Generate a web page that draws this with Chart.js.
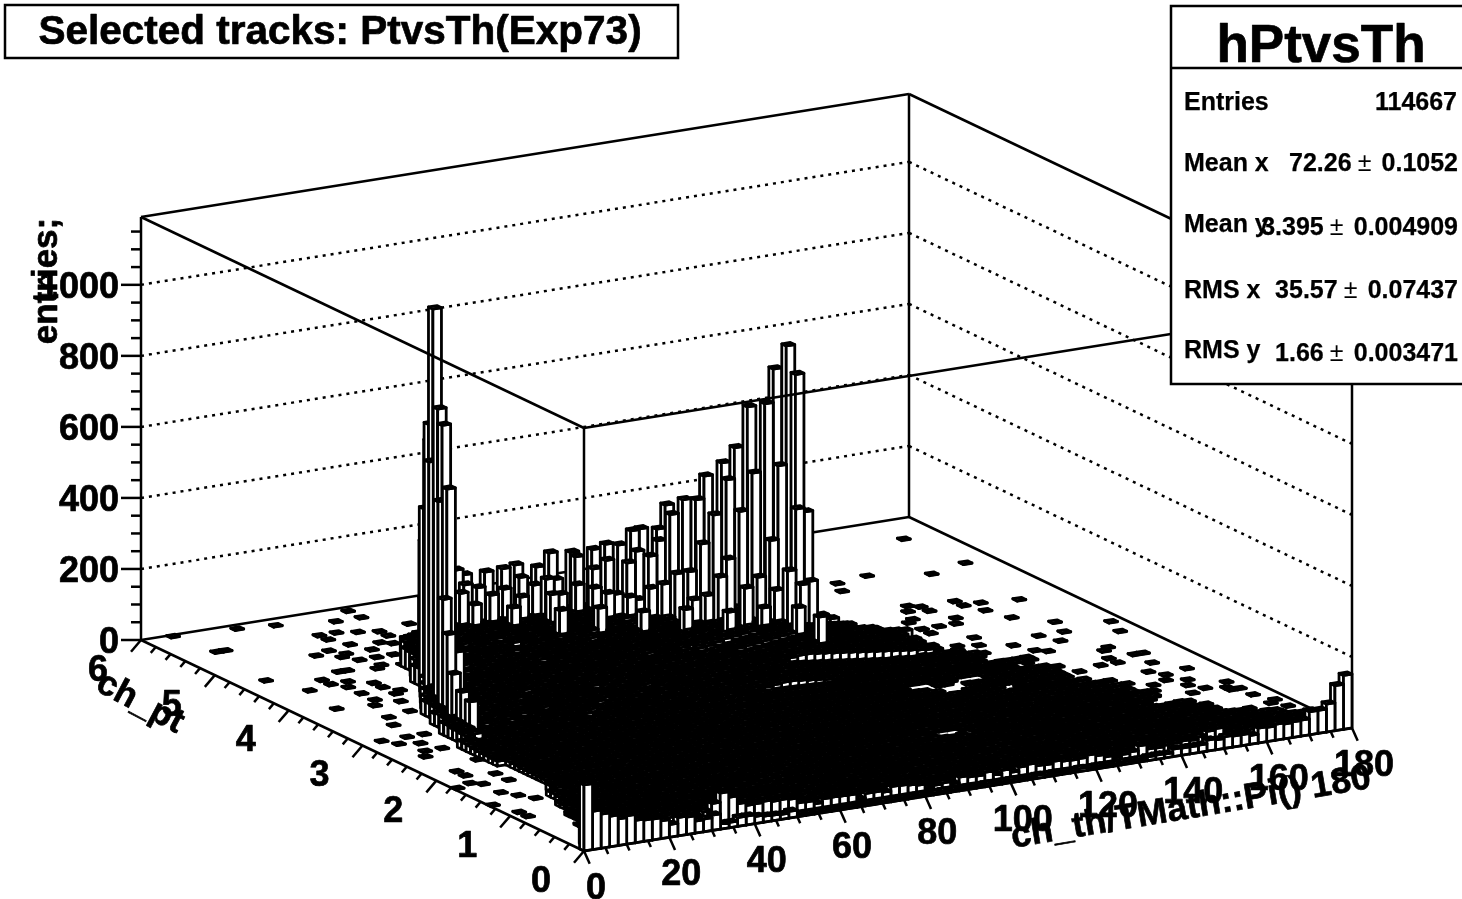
<!DOCTYPE html>
<html><head><meta charset="utf-8">
<style>html,body{margin:0;padding:0;background:#fff}canvas{display:block}</style>
<script src="https://cdn.jsdelivr.net/npm/chart.js@4"></script></head>
<body><canvas id="c" width="1462" height="899"></canvas>
<script>
// ---------- axis values ----------
const thetaTicks=[0,20,40,60,80,100,120,140,160,180];
const ptTicks=[0,1,2,3,4,5,6];
const entriesTicks=[0,200,400,600,800,1000];
const thetaBinWidth=2, ptBinWidth=0.06;
// ---------- bin contents ----------
// front row, pt bin 0: entries per theta bin
const frontRow0=[186,108,96,86,75,80,63,60,59,50,36,52,49,34,36,43,15,15,25,25,20,17,16,14,19,6,5,6,4,5,6,4,5,7,5,6,4,5,6,7,5,6,8,5,7,6,5,8,6,7,8,6,7,9,6,8,7,6,9,7,8,7,6,8,8,8,11,12,11,21,20,20,21,31,28,33,31,31,25,42,40,45,42,44,45,65,65,79,127,152];
// pt bin 2: entries per theta bin
const frontRow2=[0,90,80,70,60,65,50,50,45,40,30,40,35,30,30,40,60,86,70,48,39,40,43,39,40,37,23,22,13,23,24,23,22,7,19,19,15,27,26,23,19,7,11,14,8,23,19,18,25,14,23,13,24,28,20,19,25,21,20,21,27,21,14,8,13,17,30,17,16,20,21,24,22,28,40,44,30,28,24,26,22,24,20,22,18,20,16,18,14,12];
// main populated floor: pt bin, first theta bin, per-row multiplier, base-36 contents
const floorPtBins=[84,82,80,78,76,74,72,70,68,66,64,62,60,58,56,54,52,50,48,46,44,42,40,38,36,34,32,30,28,26,24,22,20,18,16,14,12,10,8,6,4,
83,81,79,77,75,73,71,69,67,65,63,61,59,57,55,53,51,49,47,45,43,41,39,37,35,33,31,29,27,25,23,21,19,17,15,13,11,9,7,5,3];
const floorStarts=[28,23,21,20,19,18,18,17,16,16,15,14,13,12,11,11,10,10,9,9,9,8,8,8,8,9,9,9,9,8,8,7,6,6,5,5,4,4,3,3,2,
25,22,20,19,18,18,17,16,16,15,14,13,12,11,11,10,10,9,9,9,8,8,8,8,8,9,9,9,8,8,7,6,6,5,5,4,4,3,3,2,2];
const floorScales=[3,3,3,3,3,3,3,3,3,3,3,3,3,3,3,3,3,3,3,3,3,1,1,1,1,1,1,1,1,1,1,2,2,2,2,2,2,2,2,2,2,
3,3,3,3,3,3,3,3,3,3,3,3,3,3,3,3,3,3,3,3,1,1,1,1,1,1,1,1,1,1,2,2,2,2,2,2,2,2,2,2,2];
const floorEntries=[
"a9b9a99b9a9",
"cdcdecdcddecdcdcdedc",
"fghghhgfhghhgihghfghghgfh",
"ijklkllkjlkllmlklkjlkllmklkj",
"ijlmnmnonmnmonmnnmonmnmnomnmnon",
"hjkmlmnmlmnmmlmnmlmmnmlmnmmlnmnop",
"hjkllmlklmllkmlllmklmlklmlmlklmnopq",
"ghjklkjklkkljklkkjkllkjkkljkklkmnopqr",
"ghijijhijiijhijiihijjihiijhijihijklnopqr",
"fghhihghihhgihhghihgihhgihhihgihjklmnopqp",
"fghghfghgghfghgfgghfghgghfghgfghijkmnopqrqp",
"efgefdefeefdefeedefefdeefdefedefgijlmnoqqrqpo",
"efdedcdedecdeddcdededcddedcdedcdefhijlnopqrqponm",
"defcdbcdcdbcdccbdcdcbcdcdbcdcbcdefhiklmoppqponmlkj",
"debcabcbcabcbbacbcbabcbcabcbabcdefghjklmnopponmlkjihg",
"cd9ab9a9ab9a99b9a9b9a9ab9a9b9abcdefghijklmnnmlkjihgfedc",
"cd89a8989a898a8998a98989a8989a9abcdefghijkllkjihgfedcba98",
"bc78978978797987989787987978978a9bcdefghijjihgfedcba987654",
"bc6786787676867867687687676786789abcdeffedcba9876543211212111",
"ab56756765657567565765765656756789abcdedcba9876543210121121211",
"9a456456545464564546456454564567889abccba98765432111211212112",
"kjcdeefdefdeefdefdeefdefdedfeedfefghijkkjihgfedcba98765432321212112",
"hibcdcebcdbcecdbcedbcdecbdcebcdfghijjihgfedcba987654322121121211",
"fgabcbdabcabdbcadbcabcdabcbdabcbdefghihgfedcba9876000540000321212112",
"e9abcabdabcabcaabcdabcabcabdabcbdefghgfedcba98765432100003212121121",
"d9abcabcabdabcaabcabcdabcabcabcdefgfedcba9876543211232132100002121",
"c8a9babacabab9acab9bacabacabcdeffedcba98765432212321232121232121212",
"b89a9ba9ab9a9ba9ab9a9bab9a9abcdeedcba98765432123212320000212321211212",
"a7898a98978a89798a897897898abcddcba987654323212321232123212100021211",
"0a6787867687876878678767678789abccba9876543232123212321232123212121212",
"096768676576767567686756767889abbba987654323212321232123212321232121212",
"0856756565656765656765656567789aaa98765432321232123212321232123212321212",
"07456545454565454565454545667899987654323212320000321232123212321232121",
"064565456546545654564545678998765432321232123212321232100000002123212321232",
"05354543545435454354543456788765432321232123212321232100002123212321232123212",
"04343534354345343545343456776543212321232123212321232123212321232123212321232",
"043343434353434343435343434566543212321232123212321232123200002123212321232123212",
"03323232423232324232323234554321232123212321232123212321232123212321232123212321232",
"0232323232423232323242323234544321232123212321232123212321232123212321232123212321232123",
"02121212323121212321212121343321212321212321212321212321212321212321212321212321212321212",
"012121212121212121212121212232212121212121212121212121212121212121212121212121212121212121",
"abbabcabbaabcbab",
"deefdeedfeedfdeefedefe",
"hijijihjiijkjiijhjijiijkijih",
"jklmlmnmllmlnmlmmlnmlmlmnlmlmnm",
"ijlmlnmnmmlnmlmnmlnmmlnmmlmnmlmnn",
"hjklmllmkllmlkllmlkmlmlklmlmklmnopp",
"hijkkljkkljjkklkjklkjkklkjklkklmnopqq",
"ghijjkhijjiihjijjhijkihjjiihijjhjklmnopq",
"fghiihghiihgiihhgihhgiihgihihgiijklmnopqq",
"fgghgfghhgfghhggfghgghfghggfghgijkmnopqrrpq",
"efgfgefgffefgfeefgfgeffeffegfefgijlmnopqrqpon",
"efefdedefdeefdedeffdeeffdeffdefghijlmnoqqrqpnmlk",
"decdecdcdecdcdcdecdcdecdcdcdcdefhikmnopqqponmlkjih",
"debcbcdcbcdbcbcbdbcbcdbcbcbcbcdefgijklnoppponmlkjihgf",
"cdaba9ababa9abab9aba9abab9aba9abcdefghijklmnonmlkjihgfed",
"bc9a989a9a89a9899a98a9a89a989a9abcdefghijklmlkjihgfedcba9",
"bc8989789a7898a7989879897898789abcdefghijkkjihgfedcba98765",
"bc7867867968678687968796867687789abcdefgfedcba987654332121212",
"ab675675767565768756756756567567889abcdeedcba98765432110211212",
"9a546546564554646546546545546567889abcdcba9876543211212112121",
"lkdefgefgeffegefefgedgfefgefegfghijklmlkjihgfedcba98765432121212112",
"jicdecdeficdefdecdeficdefcdefghijkkjihgfedcba9876543212212112121",
"ghbcdcebcdbcebcdcbedcbcdecbcdcefghijihgfedcba9876500054300032121211",
"fabcdabcabdbcaabcdbcabcabdabcbdefghihgfedcba98764321000032121212112",
"ea9bcabdabcabcabcdabcabcabdabcbcdefgfedcba9876543211000121212112121",
"d9abcabdaabcbaabcabdabcabcabcdefgfedcba98765432112321232000212121",
"c8a9babacabab9acab9bacabacabcdefedcba9876543221232123212123212121",
"b89a9b9ab9a9ba9ab9a9bab9a9abcdedcba98765432123212000023212321211212",
"0a7898a9897a89798a89789789abcddcba987654323212321232123210002121211",
"0a6778786768787687867876678789abcbba9876543232123212321232123212121212",
"085675656565765656765656567789aaa98765432321232123212321232123212321212",
"074565454545654545654545456678999876543232123200032123212321232123212121",
"0645654545654545654564545678998765432321232123212000002123212321232123",
"053545435454354543545434567887654323212321232123210002123212321232123212",
"0434353435434534354534345677654321232123212321232123212321232123212321232",
"04343434353434343535343434566543212321232123212321230002123212321232123212321",
"0332323242323232423232323455432123212321232123212321232123212321232123212321232",
"023232323242323232324232323454432123212321232123212321232123212321232123212321232123",
"0212121232312121232121212134332121232121232121232121232121232121232121232121232121",
"012121212121212121212121212232212121212121212121212121212121212121212121212121212121212",
"01212121212121212121212121223221212121212121212121212121212121212121212121212121212121"
];
// tall ridge and spike: [theta bin, pt bin, entries]
const ridgeBars=[[30,87,158],[31,87,141],[33,86,147],[35,86,149],[37,87,146],[39,86,138],[40,85,180],[42,84,180],[44,83,186],[45,82,203],[46,81,203],[47,80,245],[48,80,247],[49,78,254],[50,78,318],[51,76,341],[52,75,343],[53,75,406],[54,73,451],[55,72,496],[56,71,613],[57,69,630],[58,69,724],[59,68,791],
[58,64,738],[55,68,448],[57,66,473],[53,70,425],[52,71,324],[54,69,338],[57,62,375],[58,62,363],[55,64,282],[50,70,256],[49,75,313],[48,76,237],[46,77,209],[47,76,197],[45,77,180],[43,78,189],[42,79,163],[41,81,189],[36,84,132],[52,68,217],[55,60,220],[57,59,189],[56,59,183],[53,63,192],[54,61,163],[51,62,175],[50,66,186],[48,69,191],[47,70,183],[46,71,152],[45,72,138],[49,67,132],[48,68,118],[44,73,104],[42,74,121],[41,77,124],[39,77,141],[37,78,158],[36,78,163],[35,79,144],[33,78,124],[32,80,138],[30,82,138],[29,83,144],[28,82,130],[30,79,135],[35,75,141],[36,75,138],[41,74,127],[43,73,115],
[28,79,115],[31,76,113],[34,71,124],[38,70,121],[42,68,107],[46,66,110],[49,62,115],[52,60,127],[54,56,144],[55,53,132],
[15,63,1094],[14,60,834],[14,59,794],[15,64,763],[16,66,699],[13,56,636],[12,55,335],[12,54,242],[11,51,152],[17,69,394],[16,67,504],[18,71,217],[14,62,673],[13,58,589],[13,54,189],[11,49,113],[11,47,98]];
// isolated low bins around the populated region: [theta bin, pt bin]
const strayCells=[[3,99],[10,98],[14,97],[23,98],[23,95],[20,95],[26,90],[16,91],[18,91],[20,90],[22,89],[22,87],[16,89],[17,86],[20,85],[21,84],[23,84],[4,91],[5,91],[12,84],[14,85],[15,83],[14,82],[18,83],[15,80],[17,80],[19,80],[20,79],[15,76],[16,77],[18,76],[11,77],[12,77],[3,78],[8,75],[8,73],[10,73],[9,71],[12,71],[12,69],[13,67],[5,72],[9,68],[9,65],[8,63],[12,66],[11,63],[4,64],[10,59],[12,58],[7,58],[6,55],[10,52],[2,50],[3,48],[5,50],[7,50],[5,47],[6,44],[4,44],[3,42],[7,38],[3,35],[3,33],[6,32],[2,30],[3,29],[6,29],[0,29],[3,25],[4,23],[0,21],[5,21],[1,17],[1,15],
[85,92],[86,80],[75,81],[81,78],[71,80],[70,77],[84,64],[78,67],[80,65],[78,65],[73,68],[74,67],[72,66],[74,65],[79,62],[64,70],[80,58],[75,61],[71,63],[70,62],[74,59],[83,54],[88,51],[87,47],[82,50],[66,62],[70,59],[72,59],[70,57],[68,59],[67,60],[65,58],[79,50],[73,53],[80,47],[75,48],[70,51],[72,50],[67,52],[65,52],[76,45],[77,44],[83,42],[82,41],[85,38],[84,38],[71,47],[73,43],[81,38],[79,36],[81,36],[84,34],[73,41],[74,39],[86,30],[82,31],[76,35],[83,29],[84,26],[82,27],[83,24],[78,28],[80,26],[79,24],[87,23],[84,22],[82,21],[86,20],[87,20],[87,17],[86,21],[77,28],[87,13],[88,14],[88,11]];
// text
const histTitle="Selected tracks: PtvsTh(Exp73)";
const statsName="hPtvsTh";
const xTitle="ch_th/TMath::Pi() 180", yTitle="ch_pt", zTitle="entries;";
const statsRows=[["Mean x","72.26","0.1052",163,163],["Mean y","3.395","0.004909",224,227],["RMS x","35.57","0.07437",290,290],["RMS y","1.66","0.003471",350,353]];

// ---------- assemble bins ----------
const cells=new Map();
const put=(i,j,v)=>{if(v>0)cells.set(i+":"+j,{x:i*thetaBinWidth,y:j*ptBinWidth,entries:v,i,j});};
strayCells.forEach(c=>put(c[0],c[1],1));
floorEntries.forEach((s,r)=>{[...s].forEach((ch,k)=>{const i=floorStarts[r]+k;if(i<90)put(i,floorPtBins[r],parseInt(ch,36)*floorScales[r]);});});
frontRow2.forEach((v,i)=>put(i,2,v));
frontRow0.forEach((v,i)=>put(i,0,v));
ridgeBars.forEach(b=>put(b[0],b[1],b[2]));
const legoData=[...cells.values()].sort((a,b)=>b.j-a.j||b.i-a.i);

// ---------- projection built on the chart's own scales ----------
const O={x:584,y:851},TH={x:768,y:-123},PT={x:-443,y:-211},ZZ=423;
function proj(chart,t,p,z){
  const sx=chart.scales.x,sy=chart.scales.y,sz=chart.scales.z;
  const a=(sx.getPixelForValue(t)-sx.left)/sx.width;
  const b=(sy.bottom-sy.getPixelForValue(p))/sy.height;
  const c=(sz.bottom-sz.getPixelForValue(z))/sz.height;
  return [O.x+a*TH.x+b*PT.x, O.y+a*TH.y+b*PT.y-c*ZZ];
}
function poly(ctx,pts,fill){ctx.beginPath();pts.forEach((q,n)=>n?ctx.lineTo(q[0],q[1]):ctx.moveTo(q[0],q[1]));ctx.closePath();if(fill){ctx.fillStyle="#fff";ctx.fill();}ctx.stroke();}
function line(ctx,a,b){ctx.beginPath();ctx.moveTo(a[0],a[1]);ctx.lineTo(b[0],b[1]);ctx.stroke();}
const fnt=n=>'bold '+n+'px "Liberation Sans", Arial, sans-serif';
function txt(ctx,s,x,y,size,align,rot){ctx.save();ctx.translate(x,y);if(rot)ctx.rotate(rot);ctx.font=fnt(size);ctx.textAlign=align||"center";ctx.textBaseline="middle";ctx.fillStyle="#000";ctx.strokeStyle="#000";ctx.lineWidth=size>30?0.7:0.25;ctx.lineJoin="round";ctx.fillText(s,0,0);ctx.strokeText(s,0,0);ctx.restore();}

class LegoController extends Chart.ScatterController{
  draw(){
    const chart=this.chart,ctx=chart.ctx,data=this.getDataset().data;
    ctx.save();ctx.strokeStyle="#000";ctx.lineWidth=2.8;ctx.lineJoin="round";
    for(const d of data){
      const t0=d.x,t1=d.x+thetaBinWidth,p0=d.y,p1=d.y+ptBinWidth,h=d.entries;
      const a=proj(chart,t0,p0,0),b=proj(chart,t1,p0,0),c=proj(chart,t0,p1,0);
      const A=proj(chart,t0,p0,h),B=proj(chart,t1,p0,h),C=proj(chart,t0,p1,h),D=proj(chart,t1,p1,h);
      poly(ctx,[c,a,A,C],true);
      poly(ctx,[a,b,B,A],true);
      poly(ctx,[A,B,D,C],true);
    }
    ctx.restore();
  }
}
LegoController.id="lego";
LegoController.defaults={datasetElementType:false,dataElementType:"point",showLine:false};
Chart.register(LegoController);

const backdrop={id:"backdrop",beforeDatasetsDraw(chart){
  const ctx=chart.ctx,zTop=chart.scales.z.max,T=180,P=6;
  ctx.save();ctx.strokeStyle="#000";ctx.lineWidth=2.5;ctx.lineCap="butt";
  ctx.setLineDash([3,5]);
  entriesTicks.slice(1).forEach(z=>{line(ctx,proj(chart,0,P,z),proj(chart,T,P,z));line(ctx,proj(chart,T,P,z),proj(chart,T,0,z));});
  ctx.setLineDash([]);
  line(ctx,proj(chart,0,P,0),proj(chart,T,P,0));
  line(ctx,proj(chart,T,P,0),proj(chart,T,0,0));
  line(ctx,proj(chart,T,P,0),proj(chart,T,P,zTop));
  line(ctx,proj(chart,T,0,0),proj(chart,T,0,zTop));
  line(ctx,proj(chart,0,0,0),proj(chart,0,0,zTop));
  line(ctx,proj(chart,0,P,zTop),proj(chart,T,P,zTop));
  line(ctx,proj(chart,T,P,zTop),proj(chart,T,0,zTop));
  ctx.restore();
}};
const overlay={id:"overlay",afterDatasetsDraw(chart){
  const ctx=chart.ctx,zTop=chart.scales.z.max,T=180,P=6;
  ctx.save();ctx.strokeStyle="#000";ctx.lineWidth=2.5;
  line(ctx,proj(chart,0,P,zTop),proj(chart,0,0,zTop));
  line(ctx,proj(chart,0,0,zTop),proj(chart,T,0,zTop));
  // axes
  line(ctx,proj(chart,0,P,0),proj(chart,0,P,zTop));
  line(ctx,proj(chart,0,P,0),proj(chart,0,0,0));
  line(ctx,proj(chart,0,0,0),proj(chart,T,0,0));
  for(let z=0;z<=1150;z+=50){const q=proj(chart,0,P,z),L=z%200===0?20:10;line(ctx,q,[q[0]-L,q[1]]);}
  for(let k=0;k<=36;k++){const t=k*5,q=proj(chart,t,0,0),f=k%4===0?1:.5;line(ctx,q,[q[0]+5.7*f,q[1]+12.7*f]);}
  for(let k=0;k<=30;k++){const p=k*.2,q=proj(chart,0,p,0),f=k%5===0?1:.5;line(ctx,q,[q[0]-10*f,q[1]+11.7*f]);}
  // tick labels
  entriesTicks.forEach(z=>{const q=proj(chart,0,P,z);txt(ctx,String(z),119,q[1]+3,36,"right");});
  thetaTicks.forEach(t=>{const q=proj(chart,t,0,0);txt(ctx,String(t),q[0]+12,q[1]+38,36);});
  ptTicks.forEach(p=>{const q=proj(chart,0,p,0);txt(ctx,String(p),q[0]-43,q[1]+31,36);});
  // axis titles
  txt(ctx,xTitle,1191,808,36,"center",-9.5*Math.PI/180);
  txt(ctx,yTitle,140,703,35,"center",28*Math.PI/180);
  txt(ctx,zTitle,47,281,35,"center",-Math.PI/2);
  // title box
  ctx.fillStyle="#fff";ctx.fillRect(5,5,673,53);ctx.strokeRect(5,5,673,53);
  txt(ctx,histTitle,340,33,40.5);
  // stats box
  ctx.fillStyle="#fff";ctx.fillRect(1171,6,300,378);ctx.strokeRect(1171,6,300,378);
  line(ctx,[1171,68],[1462,68]);
  txt(ctx,statsName,1321,47,53);
  txt(ctx,"Entries",1184,103,25,"left");
  txt(ctx,"114667",1457,103,25,"right");
  statsRows.forEach(r=>{
    txt(ctx,r[0],1184,r[3]+1,25,"left");
    ctx.font=fnt(25);const w=ctx.measureText(r[2]).width,start=1458-w;
    txt(ctx,r[2],1458,r[4]+1,25,"right");
    ctx.save();ctx.font='25px "Liberation Sans", Arial, sans-serif';ctx.textAlign="center";ctx.textBaseline="middle";ctx.fillStyle="#000";ctx.fillText("\u00b1",start-17,r[4]+1);ctx.restore();
    txt(ctx,r[1],start-30,r[4]+1,25,"right");
  });
  ctx.restore();
}};

new Chart(document.getElementById("c"),{
  type:"lego",
  data:{datasets:[{label:"hPtvsTh",data:legoData,pointRadius:0,xAxisID:"x",yAxisID:"y"}]},
  options:{responsive:false,animation:false,events:[],layout:{padding:0},
    plugins:{legend:{display:false},tooltip:{enabled:false},title:{display:false}},
    scales:{
      x:{type:"linear",min:0,max:180,display:false},
      y:{type:"linear",min:0,max:6,display:false},
      z:{type:"linear",axis:"y",min:0,max:1191,display:false}
    }},
  plugins:[backdrop,overlay]
});
</script></body></html>
